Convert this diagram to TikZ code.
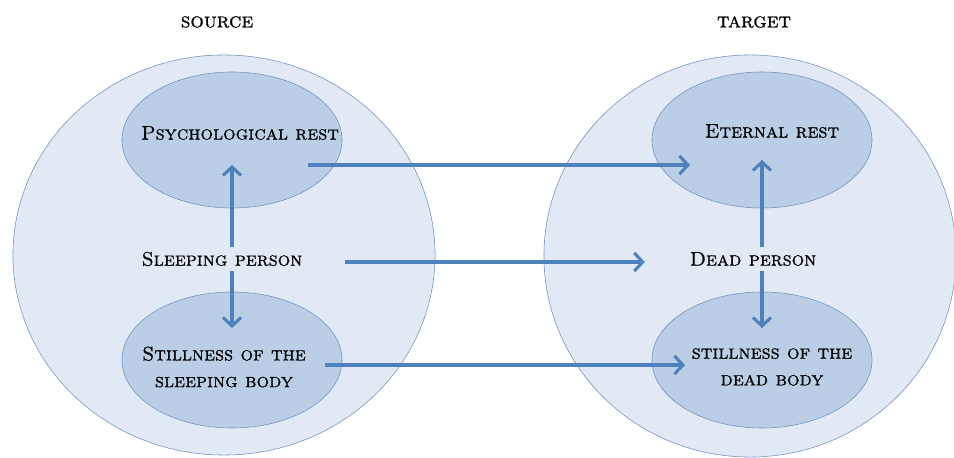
\documentclass[tikz,border=0pt]{standalone}
\usepackage{fontspec}
\newfontfamily\capsfont{lmromancaps10-regular.otf}[AutoFakeBold=0.8]
\usetikzlibrary{shapes.geometric,arrows.meta}
\definecolor{fieldfill}{HTML}{E1E9F4}
\definecolor{areafill}{HTML}{BACEE6}
\definecolor{rimblue}{HTML}{6F93C0}
\definecolor{linkblue}{HTML}{4F81BD}
\begin{document}
\begin{tikzpicture}[
	x=0.025cm, y=-0.025cm,
	field/.style={
		ellipse, draw=rimblue, fill=fieldfill, thin,
		inner sep=0pt
	},
	area/.style={
		ellipse, draw=rimblue, fill=areafill, thin,
		inner sep=0pt, minimum width=5.5cm, minimum height=3.4cm
	},
	word/.style={font=\fontsize{14}{19}\capsfont\bfseries, align=center},
	head/.style={font=\fontsize{15}{18}\capsfont\bfseries},
	line/.style={draw=linkblue, line width=2.2pt, -{Straight Barb[length=6pt,width=13pt]}},
	]
	\useasboundingbox (0,0) rectangle (954,458);

	% domains
	\node [field, minimum width=10.55cm, minimum height=10cm] (src) at (224,255) {};
	\node [field, minimum width=10.3cm, minimum height=10.05cm] (tgt) at (750,256) {};
	\node [head] (srchead) at (217,22) {source};
	\node [head] (tgthead) at (754,22) {target};

	% mapped elements
	\node [area] (pr) at (232,140) {};
	\node [area] (ss) at (232,360) {};
	\node [area] (er) at (762,140) {};
	\node [area] (ds) at (762,360) {};
	\node [word] (prtext) at (240,133) {Psychological rest};
	\node [word] (sstext) at (224,367) {Stillness of the\\sleeping body};
	\node [word] (ertext) at (772,131) {Eternal rest};
	\node [word] (dstext) at (772,367) {stillness of the\\dead body};
	\node [word] (sp) at (222,259) {Sleeping person};
	\node [word] (dp) at (753,259) {Dead person};

	\path [line] (sp.north -| pr.center) -- ([shift={(0,25)}]pr.center);
	\path [line] (sp.south -| ss.center) -- ([shift={(0,-32)}]ss.center);
	\path [line] (dp.north -| er.center) -- ([shift={(0,20)}]er.center);
	\path [line] (dp.south -| ds.center) -- ([shift={(0,-32)}]ds.center);
	\path [line] ([shift={(76,25)}]pr.center) -- ([shift={(-72,25)}]er.center);
	\path [line] ([shift={(38,3)}]sp.east) -- ([shift={(-40,3)}]dp.west);
	\path [line] ([shift={(93,5)}]ss.center) -- ([shift={(-77,5)}]ds.center);
\end{tikzpicture}
\end{document}
